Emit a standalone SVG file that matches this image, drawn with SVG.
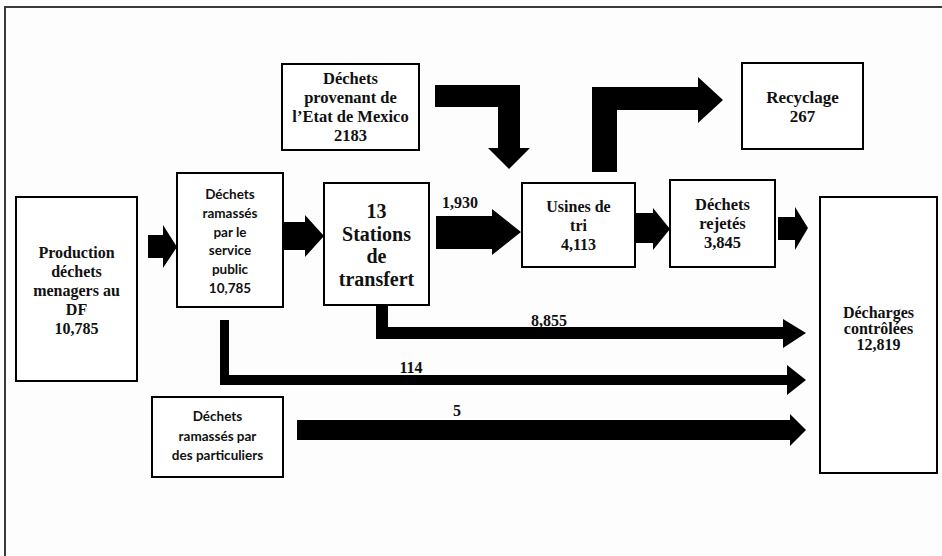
<svg xmlns="http://www.w3.org/2000/svg" width="942" height="556" viewBox="0 0 942 556">
  <style>
    .box { fill: #ffffff; stroke: #000000; stroke-width: 2; }
    .serif { font-family: "Liberation Serif", "Times New Roman", serif; font-weight: bold; fill: #111111; text-anchor: middle; }
    .sans { font-family: Lato, "Open Sans", "Liberation Sans", sans-serif; font-weight: bold; fill: #111111; text-anchor: middle; }
    .arrow { fill: #000000; }
  </style>
  <rect x="0" y="0" width="942" height="556" fill="#fdfdfd"/>
  <!-- outer frame -->
  <path d="M5,556 V7 H942" fill="none" stroke="#3a3a3a" stroke-width="2"/>

  <!-- flow connectors (block arrows) -->
  <g id="connectors">
    <polygon class="arrow" points="148,235 163,235 163,225 177,247 163,268 163,258 148,258"/>
    <polygon class="arrow" points="283,222 305,222 305,215 324,236 305,257 305,250 283,250"/>
    <polygon class="arrow" points="436,216 492,216 492,209 521,232 492,255 492,249 436,249"/>
    <polygon class="arrow" points="635,213 653,213 653,208 670,229 653,250 653,243 635,243"/>
    <polygon class="arrow" points="778,217 795,217 795,207 808,228 795,250 795,240 778,240"/>
    <polygon class="arrow" points="435,85 520,85 520,148 530,148 509,169 488,148 498,148 498,107 435,107"/>
    <polygon class="arrow" points="592,172 592,87 698,87 698,77 723,100 698,123 698,110 617,110 617,172"/>
    <polygon class="arrow" points="376,305 388,305 388,327 783,327 783,319 806,333 783,348 783,339 376,339"/>
    <polygon class="arrow" points="220,320 229,320 229,375 787,375 787,365 806,380 787,395 787,385 220,385"/>
    <polygon class="arrow" points="297,420 790,420 790,414 806,430 790,446 790,440 297,440"/>
    <text class="serif" x="460" y="208" font-size="16">1,930</text>
    <text class="serif" x="549" y="326" font-size="16">8,855</text>
    <text class="serif" x="411" y="373" font-size="16">114</text>
    <text class="serif" x="457" y="416" font-size="16">5</text>
  </g>

  <g id="production">
    <rect class="box" x="16" y="197" width="121" height="184"/>
    <text class="serif" font-size="16" x="76.5" y="258">Production</text>
    <text class="serif" font-size="16" x="76.5" y="277">déchets</text>
    <text class="serif" font-size="16" x="76.5" y="296">menagers au</text>
    <text class="serif" font-size="16" x="76.5" y="315">DF</text>
    <text class="serif" font-size="16" x="76.5" y="334">10,785</text>
  </g>

  <g id="service-public">
    <rect class="box" x="177" y="173" width="106" height="134"/>
    <text class="sans" font-size="13.5" x="230" y="199">Déchets</text>
    <text class="sans" font-size="13.5" x="230" y="218">ramassés</text>
    <text class="sans" font-size="13.5" x="230" y="237">par le</text>
    <text class="sans" font-size="13.5" x="230" y="255">service</text>
    <text class="sans" font-size="13.5" x="230" y="274">public</text>
    <text class="sans" font-size="13.5" x="230" y="293">10,785</text>
  </g>

  <g id="stations">
    <rect class="box" x="324" y="183" width="105" height="122"/>
    <text class="serif" font-size="20" x="376.5" y="218">13</text>
    <text class="serif" font-size="20" x="376.5" y="241">Stations</text>
    <text class="serif" font-size="20" x="376.5" y="263">de</text>
    <text class="serif" font-size="20" x="376.5" y="286">transfert</text>
  </g>

  <g id="mexico">
    <rect class="box" x="282" y="64" width="137" height="86"/>
    <text class="serif" font-size="16.5" x="350.5" y="84">Déchets</text>
    <text class="serif" font-size="16.5" x="350.5" y="103">provenant de</text>
    <text class="serif" font-size="16.5" x="350.5" y="122">l’Etat de Mexico</text>
    <text class="serif" font-size="16.5" x="350.5" y="141">2183</text>
  </g>

  <g id="usines">
    <rect class="box" x="522" y="183" width="113" height="84"/>
    <text class="serif" font-size="16" x="578.5" y="212">Usines de</text>
    <text class="serif" font-size="16" x="578.5" y="231">tri</text>
    <text class="serif" font-size="16" x="578.5" y="250">4,113</text>
  </g>

  <g id="rejetes">
    <rect class="box" x="670" y="180" width="105" height="87"/>
    <text class="serif" font-size="16.5" x="722.5" y="210">Déchets</text>
    <text class="serif" font-size="16.5" x="722.5" y="229">rejetés</text>
    <text class="serif" font-size="16.5" x="722.5" y="248">3,845</text>
  </g>

  <g id="recyclage">
    <rect class="box" x="742" y="63" width="121" height="86"/>
    <text class="serif" font-size="17" x="802.5" y="103">Recyclage</text>
    <text class="serif" font-size="17" x="802.5" y="122">267</text>
  </g>

  <g id="decharges">
    <rect class="box" x="820" y="197" width="117" height="276"/>
    <text class="serif" font-size="16" x="878.5" y="318">Décharges</text>
    <text class="serif" font-size="16" x="878.5" y="334">contrôlées</text>
    <text class="serif" font-size="16" x="878.5" y="350">12,819</text>
  </g>

  <g id="particuliers">
    <rect class="box" x="152" y="397" width="131" height="80"/>
    <text class="sans" font-size="13.5" x="217.5" y="421">Déchets</text>
    <text class="sans" font-size="13.5" x="217.5" y="441">ramassés par</text>
    <text class="sans" font-size="13.5" x="217.5" y="460">des particuliers</text>
  </g>
</svg>
